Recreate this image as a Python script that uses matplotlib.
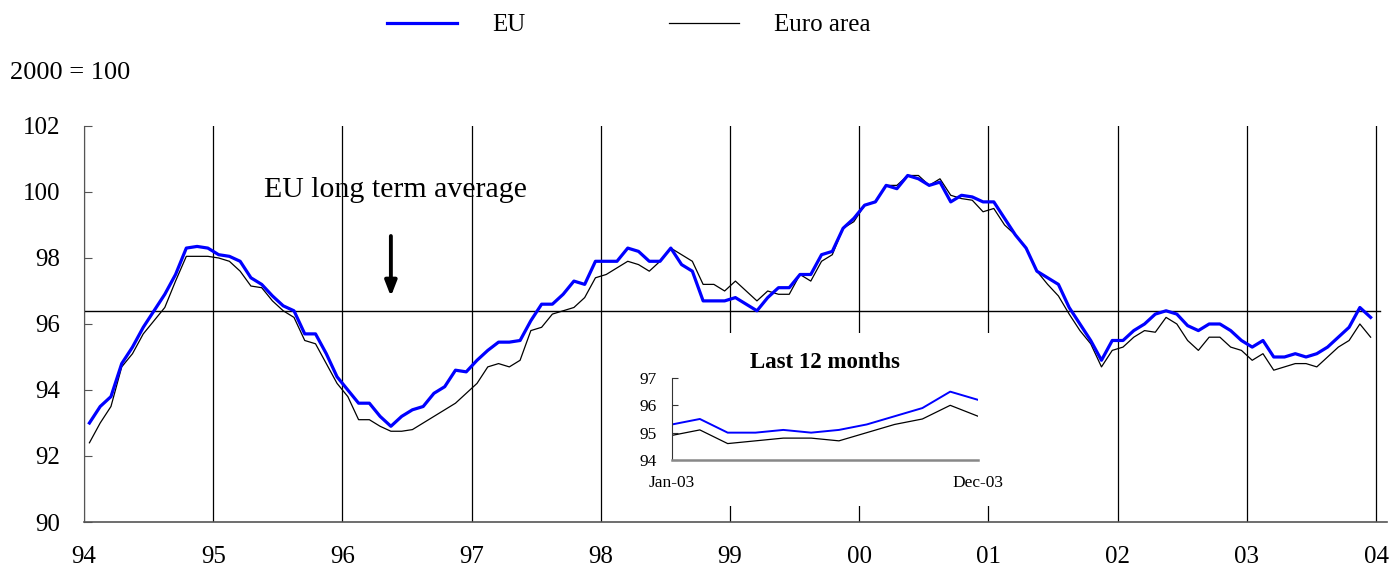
import matplotlib.pyplot as plt
from matplotlib.patches import Rectangle
import numpy as np

plt.rcParams['font.family'] = ['Liberation Serif', 'DejaVu Serif']

# monthly index values, Jan-1994 .. Dec-2003 (2000 = 100)
eu = [93.0, 93.5, 93.8, 94.8, 95.3, 95.9, 96.4, 96.9, 97.5, 98.3, 98.35, 98.3,
      98.1, 98.05, 97.9, 97.4, 97.2, 96.85, 96.55, 96.4, 95.7, 95.7, 95.1, 94.4,
      94.0, 93.6, 93.6, 93.2, 92.9, 93.2, 93.4, 93.5, 93.9, 94.1, 94.6, 94.55,
      94.9, 95.2, 95.45, 95.45, 95.5, 96.1, 96.6, 96.6, 96.9, 97.3, 97.2, 97.9,
      97.9, 97.9, 98.3, 98.2, 97.9, 97.9, 98.3, 97.8, 97.6, 96.7, 96.7, 96.7,
      96.8, 96.6, 96.4, 96.8, 97.1, 97.1, 97.5, 97.5, 98.1, 98.2, 98.9, 99.2,
      99.6, 99.7, 100.2, 100.1, 100.5, 100.4, 100.2, 100.3, 99.7, 99.9, 99.85, 99.7,
      99.7, 99.2, 98.7, 98.3, 97.6, 97.4, 97.2, 96.5, 96.0, 95.5, 94.9, 95.5,
      95.5, 95.8, 96.0, 96.3, 96.4, 96.3, 95.95, 95.8, 96.0, 96.0, 95.8, 95.5,
      95.3, 95.5, 95.0, 95.0, 95.1, 95.0, 95.1, 95.3, 95.6, 95.9, 96.5, 96.2]

euro_area = [92.4, 93.0, 93.5, 94.7, 95.1, 95.7, 96.1, 96.5, 97.3, 98.05, 98.05, 98.05,
             98.0, 97.9, 97.6, 97.15, 97.1, 96.7, 96.4, 96.2, 95.5, 95.4, 94.8, 94.2,
             93.8, 93.1, 93.1, 92.9, 92.75, 92.75, 92.8, 93.0, 93.2, 93.4, 93.6, 93.9,
             94.2, 94.7, 94.8, 94.7, 94.9, 95.8, 95.9, 96.3, 96.4, 96.5, 96.8, 97.4,
             97.5, 97.7, 97.9, 97.8, 97.6, 97.9, 98.3, 98.1, 97.9, 97.2, 97.2, 97.0,
             97.3, 97.0, 96.7, 97.0, 96.9, 96.9, 97.5, 97.3, 97.9, 98.1, 98.9, 99.1,
             99.6, 99.7, 100.2, 100.2, 100.5, 100.5, 100.2, 100.4, 99.9, 99.8, 99.75, 99.4,
             99.5, 99.0, 98.7, 98.3, 97.6, 97.2, 96.85, 96.3, 95.8, 95.4, 94.7, 95.2,
             95.3, 95.6, 95.8, 95.75, 96.2, 96.0, 95.5, 95.2, 95.6, 95.6, 95.3, 95.2,
             94.9, 95.1, 94.6, 94.7, 94.8, 94.8, 94.7, 95.0, 95.3, 95.5, 96.0, 95.6]

year_labels = ['94', '95', '96', '97', '98', '99', '00', '01', '02', '03', '04']
eu_long_term_avg = 96.4
inset_labels = ['Jan-03', 'Dec-03']

months = np.arange(len(eu)) + 0.5

fig = plt.figure(figsize=(13.96, 5.69), dpi=100)
ax = fig.add_axes([0.0602, 0.0826, 0.9332, 0.696])

ax.plot(months, eu, color='#0000ff', lw=2.3, label='EU', zorder=3)
ax.plot(months, euro_area, color='black', lw=0.9, label='Euro area', zorder=2)
ax.axhline(eu_long_term_avg, xmax=0.995, color='black', lw=1.0, zorder=1)

ax.set_xlim(0, 121)
ax.set_ylim(90, 102)
ax.set_xticks(np.arange(0, 121, 12))
ax.set_xticklabels(year_labels)
ax.set_yticks(np.arange(90, 103, 2))
ax.grid(axis='x', color='black', lw=0.9)
ax.tick_params(axis='x', length=0, pad=17, labelsize=18)
ax.tick_params(axis='y', direction='in', length=6, pad=17, labelsize=18,
               color='#555555')
for s in ['top', 'right']:
    ax.spines[s].set_visible(False)
ax.spines['left'].set_color('#555555')
ax.spines['bottom'].set_color('#555555')
ax.spines['bottom'].set_linewidth(1.2)

ax.text(28.9, 100.06, 'EU long term average', fontsize=21.5, ha='center',
        va='center')
ax.annotate('', xy=(28.5, 96.75), xytext=(28.5, 98.75),
            arrowprops=dict(arrowstyle='-|>,head_width=0.35,head_length=0.9',
                            color='black', lw=2.8))

fig.text(10 / 1396, 1 - 73 / 569, '2000 = 100', fontsize=19, va='center')

fig.legend(loc='center', bbox_to_anchor=(629 / 1396, 1 - 25 / 569), ncol=2,
           frameon=False, fontsize=18, handlelength=2.8, handletextpad=1.4,
           columnspacing=5.75)

# white panel under the inset so the grid lines stop there
fig.patches.append(Rectangle((615 / 1396, 1 - 506 / 569), 400 / 1396, 173 / 569,
                             transform=fig.transFigure, facecolor='white',
                             edgecolor='none', zorder=0.5))

axin = fig.add_axes([0.4814, 0.1916, 0.2192, 0.1441], zorder=1)
axin.plot(np.arange(12), eu[-12:], color='#0000ff', lw=1.4)
axin.plot(np.arange(12), euro_area[-12:], color='black', lw=0.9)
axin.set_xlim(0, 11)
axin.set_ylim(94, 97)
axin.set_yticks([94, 95, 96, 97])
axin.set_xticks([0, 11])
axin.set_xticklabels(inset_labels)
axin.tick_params(axis='x', length=0, pad=11, labelsize=12.5)
axin.tick_params(axis='y', direction='in', length=4, pad=11, labelsize=12.5,
                 color='#333333')
for s in ['top', 'right']:
    axin.spines[s].set_visible(False)
axin.spines['left'].set_color('#333333')
axin.spines['bottom'].set_color('#888888')
axin.spines['bottom'].set_linewidth(1.8)
axin.set_title('Last 12 months', fontsize=16.5, fontweight='bold', pad=7)

fig.savefig('out.png', dpi=100)
